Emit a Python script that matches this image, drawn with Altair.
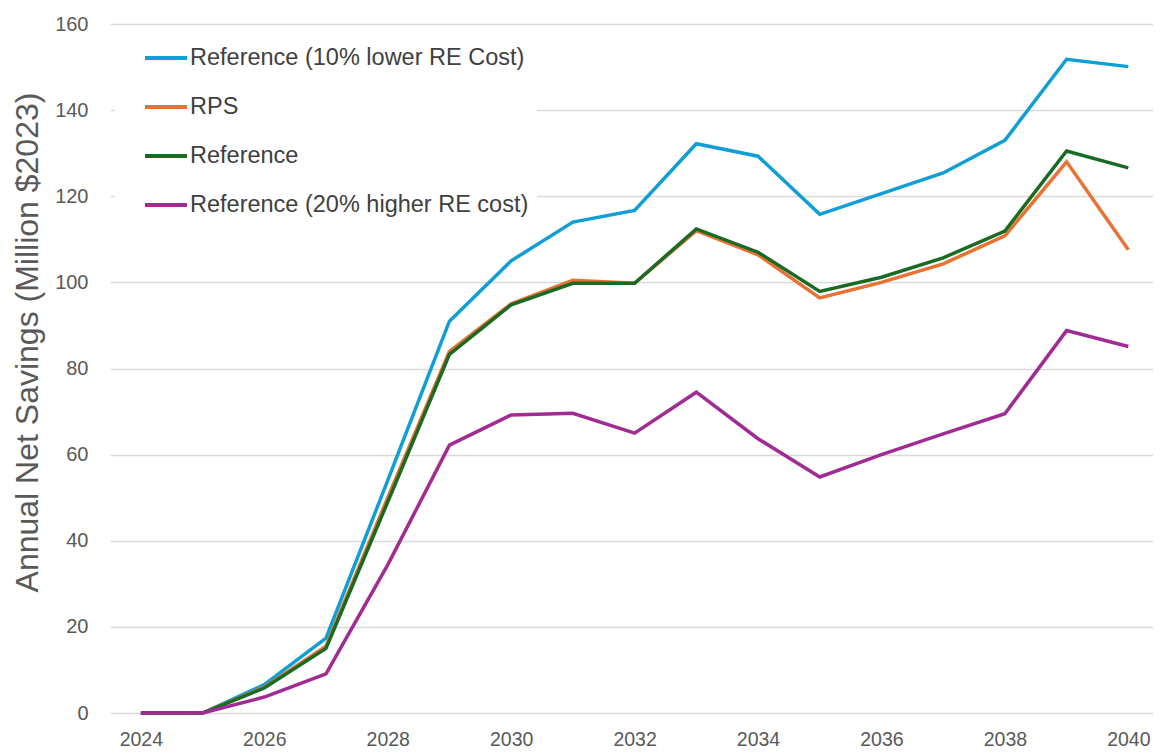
import altair as alt
import pandas as pd

years = list(range(2024, 2041))
series_names = [
    "Reference (10% lower RE Cost)",
    "RPS",
    "Reference",
    "Reference (20% higher RE cost)",
]
lower_cost = [0, 0, 6.6, 17.4, 54, 91, 105, 114, 116.7, 132.2, 129.3, 115.8, 120.6, 125.4, 133, 151.8, 150.1]
rps = [0, 0, 6.0, 15.5, 50, 84, 95, 100.5, 99.8, 112, 106.4, 96.4, 100, 104.3, 110.8, 128, 107.6]
reference = [0, 0, 5.8, 15, 49, 83.3, 94.8, 99.8, 99.8, 112.4, 107, 97.9, 101.2, 105.7, 111.9, 130.5, 126.6]
higher_cost = [0, 0, 3.7, 9.1, 34.4, 62.2, 69.2, 69.6, 65, 74.5, 63.7, 54.8, 60, 64.8, 69.5, 88.8, 85.1]
colors = ["#0F9ED5", "#E97132", "#196B24", "#A02B93"]
x_ticks = list(range(2024, 2041, 2))
y_ticks = list(range(0, 161, 20))

rows = []
for i, (name, vals) in enumerate(zip(series_names, [lower_cost, rps, reference, higher_cost])):
    for y, v in zip(years, vals):
        rows.append({"Year": y, "Savings": v, "Scenario": name, "order": i})
df = pd.DataFrame(rows)

chart = alt.Chart(df).mark_line(strokeWidth=3.5).encode(
    x=alt.X("Year:Q",
            scale=alt.Scale(domain=[2023.5, 2040.4], nice=False, zero=False),
            axis=alt.Axis(values=x_ticks, format="d", title=None, grid=False,
                          ticks=False, domain=False, labelFontSize=19.5,
                          labelColor="#595959", labelFont="Liberation Sans",
                          labelPadding=17, labelBaseline="top")),
    y=alt.Y("Savings:Q",
            scale=alt.Scale(domain=[0, 160], nice=False),
            axis=alt.Axis(values=y_ticks, title="Annual Net Savings (Million $2023)",
                          ticks=False, domain=False, grid=True, gridColor="#d9d9d9",
                          gridWidth=1.3, labelFontSize=20, labelColor="#595959",
                          labelFont="Liberation Sans", labelPadding=22,
                          titleFont="Liberation Sans", titleFontSize=32,
                          titleFontWeight="normal", titleColor="#595959",
                          titleX=-66, titleY=318)),
    color=alt.Color("Scenario:N",
                    scale=alt.Scale(domain=series_names, range=colors),
                    sort=series_names,
                    legend=alt.Legend(orient="none", legendX=5, legendY=3,
                                      title=None, fillColor="white", padding=8,
                                      symbolType="stroke", symbolSize=1764,
                                      symbolStrokeWidth=4, symbolOffset=20,
                                      labelFontSize=23.5,
                                      labelFont="Liberation Sans", labelColor="#404040",
                                      rowPadding=14, labelOffset=1, labelLimit=600)),
    order=alt.Order("order:Q"),
).properties(
    width=1043, height=689,
    autosize=alt.AutoSizeParams(type="none"),
    padding={"left": 102, "top": 16, "right": 0, "bottom": 40},
).configure_view(stroke=None)

chart.save("out.html", embed_options={"renderer": "svg", "actions": False})
